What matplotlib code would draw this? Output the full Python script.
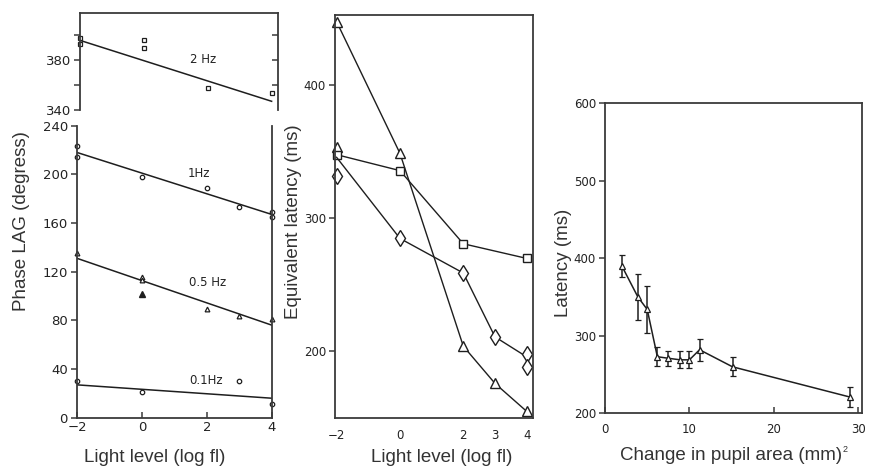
import numpy as np
import matplotlib.pyplot as plt

# ---- left panel (phase lag vs light level) ----
hz2_fit_x = [-2, 4]
hz2_fit_y = [396, 347]
hz2_x = [-2, -2, 0, 0, 2, 4]
hz2_y = [398, 393, 396, 390, 358, 354]

hz1_fit_x = [-2, 4]
hz1_fit_y = [218, 167]
hz1_x = [-2, -2, 0, 2, 3, 4, 4]
hz1_y = [223, 214, 198, 189, 173, 169, 165]

hz05_fit_x = [-2, 4]
hz05_fit_y = [131, 76]
hz05_x = [-2, 0, 0, 2, 3, 4]
hz05_y = [135, 116, 113, 89, 84, 81]
hz05_filled_x = [0]
hz05_filled_y = [102]

hz01_fit_x = [-2, 4]
hz01_fit_y = [27, 16]
hz01_x = [-2, 0, 3, 4]
hz01_y = [30, 21, 30, 11]

# ---- middle panel (equivalent latency) ----
tri_x = [-2, 0, 2, 3, 4]
tri_y = [448, 349, 204, 176, 155]
tri_extra_x = [-2]
tri_extra_y = [354]

sq_x = [-2, 0, 2, 4]
sq_y = [348, 336, 281, 270]

dia_line_x = [-2, 0, 2, 3, 4]
dia_line_y = [346, 285, 259, 211, 196]
dia_x = [-2, 0, 2, 3, 4, 4]
dia_y = [332, 285, 259, 211, 198, 188]

# ---- right panel (latency vs pupil area) ----
pupil = [2.0, 3.9, 5.0, 6.2, 7.5, 8.9, 10.0, 11.2, 15.1, 29.0]
latency = [390, 350, 334, 273, 271, 269, 269, 282, 260, 221]
latency_err = [14, 30, 30, 12, 10, 11, 11, 14, 12, 13]

W, H = 869, 467
fig = plt.figure(figsize=(W / 100, H / 100), dpi=100)

LINE = '#1e1e1e'
SPINE = '#3a3a3a'
TICKFAM = ['DejaVu Sans']
LABELFONT = dict(family=['Liberation Sans', 'DejaVu Sans'], size=13.5, color='#333333')


def px_axes(x0, y0, x1, y1):
    # pixel box (top-left origin) -> figure axes
    return fig.add_axes([x0 / W, 1 - y1 / H, (x1 - x0) / W, (y1 - y0) / H])


def style(ax, size=8.5):
    for s in ax.spines.values():
        s.set_color(SPINE)
        s.set_linewidth(1.3)
    ax.tick_params(colors=SPINE, labelcolor='#222222', width=1.1, length=4, pad=2.5)
    for lab in ax.get_xticklabels() + ax.get_yticklabels():
        lab.set_fontfamily(TICKFAM)
        lab.set_fontsize(size)


# upper-left axes (2 Hz)
ax_up = px_axes(80, 13, 278, 110)
ax_up.plot(hz2_fit_x, hz2_fit_y, color=LINE, lw=1.1)
ax_up.plot(hz2_x, hz2_y, ls='none', marker='s', ms=3, mfc='white', mec=LINE, mew=0.9, clip_on=False)
ax_up.text(1.45, 378, '2 Hz', fontsize=8.5, family=TICKFAM, color='#222222')
ax_up.set_xlim(-2, 4.2)
ax_up.set_ylim(340, 418)
ax_up.set_yticks([340, 360, 380, 400])
ax_up.set_yticklabels(['340', '', '380', ''])
ax_up.set_xticks([])
ax_up.spines['bottom'].set_visible(False)
style(ax_up, 9.5)
# right-side ticks point inward
ax_r2 = ax_up.secondary_yaxis('right')
ax_r2.set_yticks([360, 380, 400])
ax_r2.set_yticklabels([])
ax_r2.tick_params(direction='in', colors=SPINE, width=1.1, length=4)
ax_r2.spines['right'].set_visible(False)

# lower-left axes
ax_lo = px_axes(77, 125.7, 272, 417.7)
ax_lo.plot(hz1_fit_x, hz1_fit_y, color=LINE, lw=1.1)
ax_lo.plot(hz1_x, hz1_y, ls='none', marker='o', ms=3.2, mfc='white', mec=LINE, mew=0.9, clip_on=False)
ax_lo.plot(hz05_fit_x, hz05_fit_y, color=LINE, lw=1.1)
ax_lo.plot(hz05_x, hz05_y, ls='none', marker='^', ms=3.4, mfc='white', mec=LINE, mew=0.9, clip_on=False)
ax_lo.plot(hz05_filled_x, hz05_filled_y, ls='none', marker='^', ms=4.5, color=LINE)
ax_lo.plot(hz01_fit_x, hz01_fit_y, color=LINE, lw=1.1)
ax_lo.plot(hz01_x, hz01_y, ls='none', marker='o', ms=3.2, mfc='white', mec=LINE, mew=0.9, clip_on=False)
ax_lo.text(1.4, 198, '1Hz', fontsize=8.5, family=TICKFAM, color='#222222')
ax_lo.text(1.45, 108, '0.5 Hz', fontsize=8.5, family=TICKFAM, color='#222222')
ax_lo.text(1.45, 28, '0.1Hz', fontsize=8.5, family=TICKFAM, color='#222222')
ax_lo.set_xlim(-2, 4)
ax_lo.set_ylim(0, 240)
ax_lo.set_yticks(np.arange(0, 241, 40))
ax_lo.set_xticks([-2, 0, 2, 4])
ax_lo.spines['top'].set_visible(False)
ax_lo.tick_params(axis='x', direction='in')
style(ax_lo, 9.5)

# middle axes
ax_mid = px_axes(335, 15, 533, 418)
ax_mid.plot(tri_x, tri_y, color=LINE, lw=1.0, marker='^', ms=7, mfc='white', mec=LINE, mew=1.0, clip_on=False)
ax_mid.plot(tri_extra_x, tri_extra_y, ls='none', marker='^', ms=7, mfc='white', mec=LINE, mew=1.0, clip_on=False)
ax_mid.plot(sq_x, sq_y, color=LINE, lw=1.0, marker='s', ms=6, mfc='white', mec=LINE, mew=1.0, clip_on=False)
ax_mid.plot(dia_line_x, dia_line_y, color=LINE, lw=1.0)
ax_mid.plot(dia_x, dia_y, ls='none', marker='d', ms=8, mfc='white', mec=LINE, mew=1.0, clip_on=False)
ax_mid.set_xlim(-2.05, 4.2)
ax_mid.set_ylim(150, 453)
ax_mid.set_yticks([200, 300, 400])
ax_mid.set_xticks([-2, 0, 2, 3, 4])
style(ax_mid, 8.5)
ax_mid.tick_params(axis='x', length=0, pad=8)

# right axes
ax_r = px_axes(605, 103.3, 861.7, 413.3)
ax_r.errorbar(pupil, latency, yerr=latency_err, color=LINE, lw=1.1, elinewidth=1.1,
              capsize=2, capthick=1.1, marker='^', ms=4.5, mfc='white', mec=LINE, mew=0.9)
ax_r.set_xlim(0, 30.4)
ax_r.set_ylim(200, 600)
ax_r.set_yticks([200, 300, 400, 500, 600])
ax_r.set_xticks([0, 10, 20, 30])
style(ax_r, 8.5)
ax_r.tick_params(axis='x', direction='in', pad=7)

# axis labels placed like the original scan
fig.text(22 / W, 1 - 221 / H, 'Phase LAG (degress)', rotation=90, ha='center', va='center', **LABELFONT)
fig.text(155 / W, 1 - 457 / H, 'Light level (log fl)', ha='center', va='center', **LABELFONT)
fig.text(294 / W, 1 - 222 / H, 'Equivalent latency (ms)', rotation=90, ha='center', va='center', **LABELFONT)
fig.text(442 / W, 1 - 457 / H, 'Light level (log fl)', ha='center', va='center', **LABELFONT)
fig.text(564 / W, 1 - 263 / H, 'Latency (ms)', rotation=90, ha='center', va='center', **LABELFONT)
fig.text(731 / W, 1 - 456 / H, 'Change in pupil area (mm)', ha='center', va='center', **LABELFONT)
fig.text(843 / W, 1 - 450 / H, '2', ha='left', va='center', family=['Liberation Sans', 'DejaVu Sans'],
         size=6.5, color='#333333')

fig.savefig('out.png', dpi=100, facecolor='white')
